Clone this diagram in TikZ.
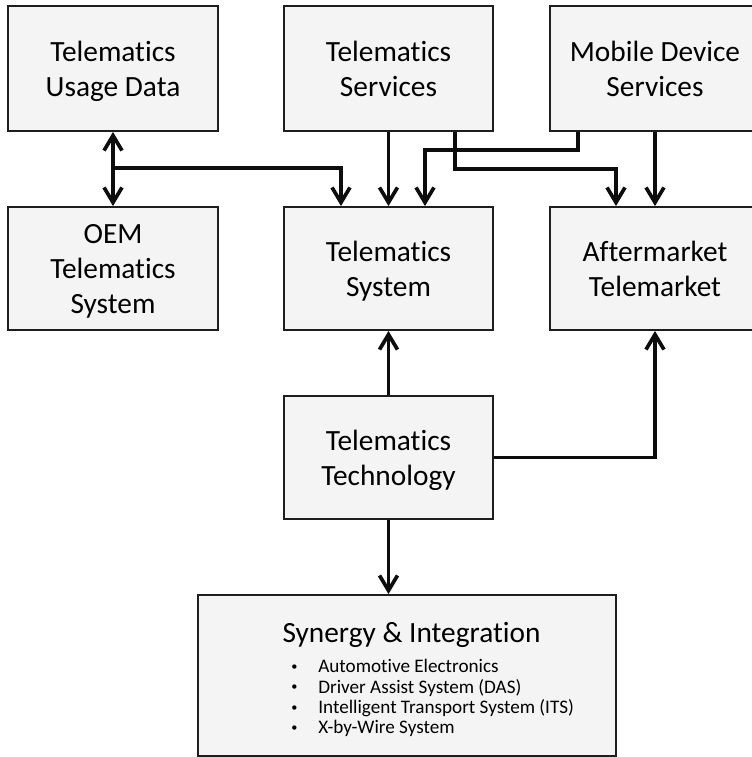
\documentclass[tikz,border=0pt]{standalone}
\usepackage{fontspec}
\setmainfont{Carlito}[Ligatures={NoCommon}]
\usepackage{tikz}
\usetikzlibrary{arrows.meta, positioning}
\definecolor{boxfill}{HTML}{F4F4F4}
\definecolor{boxline}{HTML}{1E1E1E}
\newcommand{\boxfont}{\fontsize{16.7}{19.9}\selectfont}
\newcommand{\listfont}{\fontsize{10.9}{11.6}\selectfont}
\newcommand{\dotmark}{\raisebox{0.25ex}{\fontsize{7}{7}\selectfont\textbullet}}

\begin{document}
\begin{tikzpicture}
	[%
	block/.style ={rectangle,	draw=boxline,	fill=boxfill,	line width=1.1pt,	align=center,	font=\boxfont,	minimum width=4.2cm,	minimum height=2.46cm,	text depth=0pt},%
	link/.style  ={line width=2.1pt,	draw=black!95},%
	>={Straight Barb[length=3mm,width=3.6mm]},%
	]

	\useasboundingbox (0,0) rectangle (15.04,-15.14);

	% top row
	\node (usage)    at ( 2.26,-1.37) [block, minimum height=2.5cm] {Telematics\\Usage Data};
	\node (services) at ( 7.77,-1.37) [block, minimum height=2.5cm, minimum width=4.18cm] {Telematics\\Services};
	\node (mobile)   at (13.10,-1.37) [block, minimum height=2.5cm] {Mobile Device\\Services};

	% middle row
	\node (oem)         at ( 2.26,-5.37) [block] {OEM\\Telematics\\System};
	\node (system)      at ( 7.77,-5.37) [block, minimum width=4.18cm] {Telematics\\System};
	\node (aftermarket) at (13.10,-5.37) [block] {Aftermarket\\Telemarket};

	% bottom
	\node (tech)     at ( 7.77,-9.15) [block, minimum width=4.18cm] {Telematics\\Technology};
	\node (synergy)  at ( 8.14,-13.51) [block, minimum width=8.36cm, minimum height=3.22cm] {};
	\node (syntitle) at ( 8.23,-12.70) [font=\boxfont] {Synergy \& Integration};
	\node (synlist)  at ( 5.82,-13.16) [anchor=north west, inner sep=0pt, font=\listfont]
		{\begin{tabular}{@{}p{0.54cm}@{}l@{}}
			\dotmark & Automotive Electronics\\
			\dotmark & Driver Assist System (DAS)\\
			\dotmark & Intelligent Transport System (ITS)\\
			\dotmark & X-by-Wire System
		\end{tabular}};

	\coordinate (split) at (2.26,-3.36);

	% interconnections
	\draw [link, <->] (usage) to (oem);
	\draw [link, ->] (split) -| ([xshift=-0.95cm]system.north);
	\draw [link, ->] (services) to (system);
	\draw [link, ->] ([xshift=1.33cm]services.south) -- ++(0,-0.74) -| ([xshift=-0.78cm]aftermarket.north);
	\draw [link, ->] ([xshift=-1.54cm]mobile.south) -- ++(0,-0.36) -| ([xshift=0.73cm]system.north);
	\draw [link, ->] (mobile) to (aftermarket);

	\draw [link, ->] (tech) to (system);
	\draw [link, ->] (tech.east) -| (aftermarket.south);
	\draw [link, ->] (tech.south) to (tech.south |- synergy.north);

\end{tikzpicture}
\end{document}
